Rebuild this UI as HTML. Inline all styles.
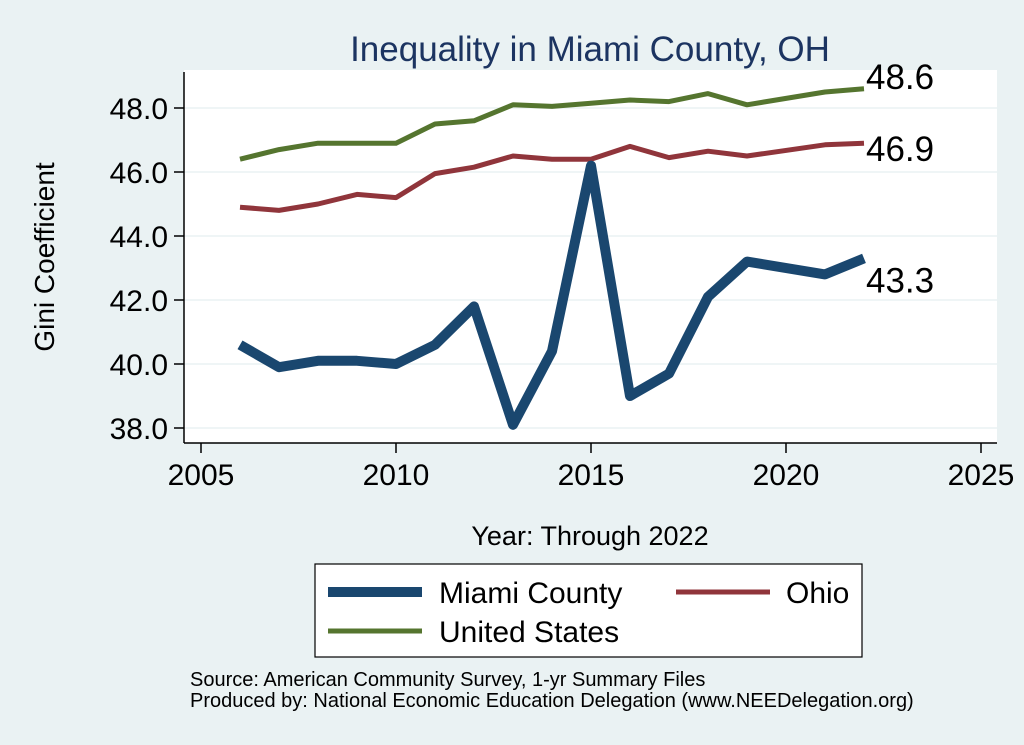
<!DOCTYPE html>
<html><head><meta charset="utf-8"><style>
body{margin:0;background:#eaf2f3;}
svg{display:block;font-family:"Liberation Sans",sans-serif;}
</style></head><body>
<svg id="c" width="1024" height="745">
<rect x="0" y="0" width="1024" height="745" fill="#eaf2f3"/>
<rect x="184" y="70" width="813" height="373" fill="#fff"/>
<text x="590" y="61" font-size="35" fill="#1c3461" text-anchor="middle">Inequality in Miami County, OH</text>
<g id="grid"></g><g id="axes"></g><g id="series"></g>
<text x="590" y="545" font-size="27" text-anchor="middle">Year: Through 2022</text>
<text transform="translate(54,257) rotate(-90)" font-size="28" text-anchor="middle">Gini Coefficient</text>
<g>
<rect x="315" y="564" width="547" height="93" fill="#fff" stroke="#000" stroke-width="1.2"/>
<line x1="328" y1="592" x2="422" y2="592" stroke="#1a476f" stroke-width="10"/>
<text x="439" y="603" font-size="30">Miami County</text>
<line x1="676" y1="592" x2="770" y2="592" stroke="#90353b" stroke-width="5"/>
<text x="786" y="603" font-size="30">Ohio</text>
<line x1="328" y1="631" x2="422" y2="631" stroke="#55752f" stroke-width="5"/>
<text x="439" y="642" font-size="30">United States</text>
</g>
<text x="190" y="686" font-size="20">Source: American Community Survey, 1-yr Summary Files</text>
<text x="190" y="707" font-size="20">Produced by: National Economic Education Delegation (www.NEEDelegation.org)</text>
</svg>
<script>
const years=[2006,2007,2008,2009,2010,2011,2012,2013,2014,2015,2016,2017,2018,2019,2021,2022];
const miami=[40.6,39.9,40.1,40.1,40.0,40.6,41.8,38.1,40.4,46.2,39.0,39.7,42.1,43.2,42.8,43.3];
const ohio=[44.9,44.8,45.0,45.3,45.2,45.95,46.15,46.5,46.4,46.4,46.8,46.45,46.65,46.5,46.85,46.9];
const us=[46.4,46.7,46.9,46.9,46.9,47.5,47.6,48.1,48.05,48.15,48.25,48.2,48.45,48.1,48.5,48.6];
const yTicks=[38,40,42,44,46,48];
const xTicks=[2005,2010,2015,2020,2025];
const endLabels=["43.3","46.9","48.6"];
const NS="http://www.w3.org/2000/svg";
const X=y=>201+(y-2005)*39;
const Y=v=>428-(v-38)*32;
function mk(tag,attrs,parent,text){const e=document.createElementNS(NS,tag);for(const k in attrs)e.setAttribute(k,attrs[k]);if(text!==undefined)e.textContent=text;document.getElementById(parent).appendChild(e);return e;}
yTicks.forEach(t=>{
 const g=mk('line',{x1:184,x2:997,y1:Y(t),y2:Y(t),stroke:'#eaf2f3','stroke-width':1.5},'grid');
 
 
 const k=mk('line',{x1:174,x2:184,y1:Y(t),y2:Y(t),stroke:'#000','stroke-width':1.5},'axes');
 
 
 const l=mk('text',{x:168,y:Y(t)+11,'font-size':30,'text-anchor':'end'},'axes',t.toFixed(1));
 
 
});
xTicks.forEach(t=>{
 const k=mk('line',{x1:X(t),x2:X(t),y1:443,y2:453,stroke:'#000','stroke-width':1.5},'axes');
 
 
 const l=mk('text',{x:X(t),y:485,'font-size':30,'text-anchor':'middle'},'axes',String(t));
 
 
});
const ya=mk('line',{x1:184,x2:184,y1:72,y2:443,stroke:'#000','stroke-width':1.5},'axes');


const xa=mk('line',{x1:184,x2:997,y1:443,y2:443,stroke:'#000','stroke-width':1.5},'axes');


const series=[[us,'#55752f',5,'us-line'],[ohio,'#90353b',5,'ohio-line'],[miami,'#1a476f',10,'miami-line']];
series.forEach(([vals,col,w,name])=>{
 const p=mk('polyline',{points:years.map((y,i)=>X(y)+','+Y(vals[i])).join(' '),fill:'none',stroke:col,'stroke-width':w,'stroke-linejoin':'round'},'series');
 
 
});
[[miami,endLabels[0],'miami-end-label',34],[ohio,endLabels[1],'ohio-end-label',18],[us,endLabels[2],'us-end-label',0]].forEach(([vals,txt,name,dy])=>{
 const n=vals.length-1;
 const l=mk('text',{x:X(years[n])+2,y:Y(vals[n])+dy,'font-size':35},'series',txt);
 
 
});
</script>
</body></html>
